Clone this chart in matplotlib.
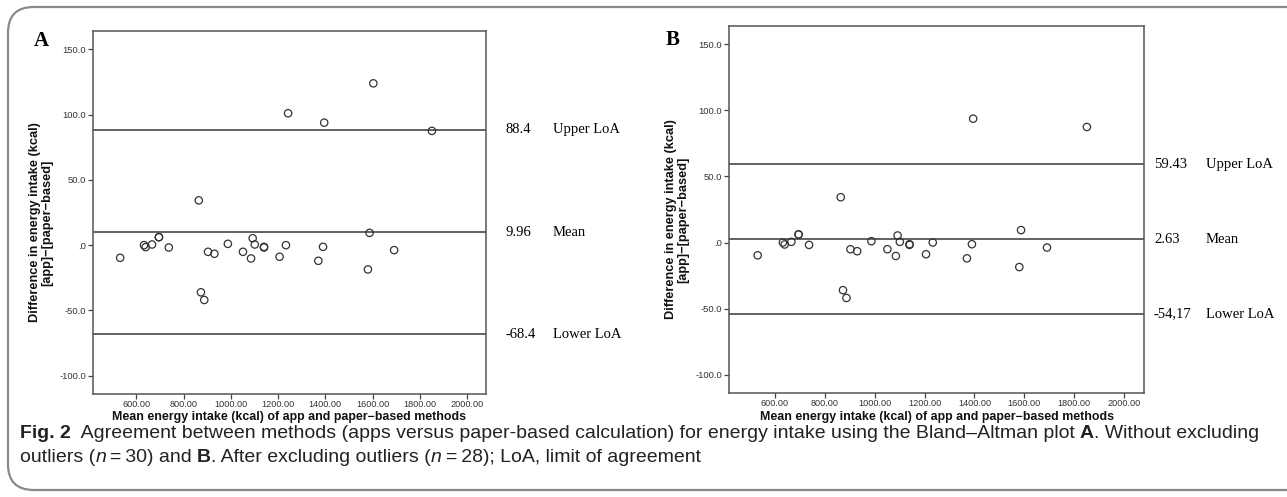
import matplotlib
matplotlib.use("Agg")
import matplotlib.pyplot as plt
from matplotlib.patches import FancyBboxPatch

# ---- data ----
mean_a = [531, 632, 639, 666, 695, 695, 737, 864, 873, 887, 903, 930, 987, 1051, 1085,
          1092, 1101, 1140, 1140, 1206, 1233, 1242, 1370, 1390, 1395, 1580, 1587, 1603,
          1691, 1851]
diff_a = [-9.7, 0.0, -1.5, 0.5, 6.1, 6.1, -1.8, 34.3, -36.1, -42.0, -5.1, -6.6, 1.0, -5.1,
          -10.2, 5.3, 0.5, -1.8, -1.3, -8.9, 0.0, 101.0, -12.0, -1.3, 93.8, -18.6, 9.4,
          123.9, -3.8, 87.5]
outliers = [21, 27]  # indices removed in panel B
mean_b = [m for i, m in enumerate(mean_a) if i not in outliers]
diff_b = [d for i, d in enumerate(diff_a) if i not in outliers]

lines_a = [88.4, 9.96, -68.4]
lines_b = [59.43, 2.63, -54.17]
num_labels_a = ["88.4", "9.96", "-68.4"]
num_labels_b = ["59.43", "2.63", "-54,17"]
line_names = ["Upper LoA", "Mean", "Lower LoA"]

xticks = [600, 800, 1000, 1200, 1400, 1600, 1800, 2000]
xticklabels = ["600.00", "800.00", "1000.00", "1200.00", "1400.00", "1600.00", "1800.00", "2000.00"]
yticks = [150, 100, 50, 0, -50, -100]
yticklabels = ["150.0", "100.0", "50.0", ".0", "-50.0", "-100.0"]

W, H = 1287, 497
fig = plt.figure(figsize=(W / 100, H / 100), dpi=100)
renderer = fig.canvas.get_renderer()

SANS = ["Liberation Sans", "DejaVu Sans"]
SERIF = ["Liberation Serif", "DejaVu Serif"]

# outer rounded border
border = FancyBboxPatch((8 / W, 7 / H), (W + 60) / W, (H - 14) / H,
                        boxstyle="round,pad=0,rounding_size=0.02",
                        transform=fig.transFigure, fill=False,
                        edgecolor="#8a8a8a", linewidth=1.6, mutation_aspect=W / H)
fig.patches.append(border)


def px_axes(l, r, t, b):
    return [l / W, (H - b) / H, (r - l) / W, (b - t) / H]


def fit_text(x, y, s, target_w, **kw):
    t = fig.text(x / W, 1 - y / H, s, fontsize=10, **kw)
    w = t.get_window_extent(renderer=renderer).width
    t.set_fontsize(10 * target_w / w)
    return t


def panel(rect, xs, ys, lines, nums, label, lab_xy, num_x, name_x):
    l, r, t, b = rect
    ax = fig.add_axes(px_axes(*rect))
    ax.scatter(xs, ys, s=28, facecolors="none", edgecolors="#333333", linewidths=0.9, zorder=3)
    for v in lines:
        ax.axhline(v, color="#555555", linewidth=1.3, zorder=2)
    ax.set_xlim(416, 2080)
    ax.set_ylim(-114, 164)
    ax.set_xticks(xticks)
    ax.set_xticklabels(xticklabels, fontsize=6.6, family=SANS, color="#333333")
    ax.set_yticks(yticks)
    ax.set_yticklabels(yticklabels, fontsize=6.8, family=SANS, color="#333333")
    ax.tick_params(direction="out", length=3.5, width=0.9, color="#444444", pad=1.5)
    ax.tick_params(axis="x", pad=1.0)
    for s in ax.spines.values():
        s.set_color("#555555")
        s.set_linewidth(1.1)
    # x label
    fit_text((l + r) / 2, 417, "Mean energy intake (kcal) of app and paper\u2212based methods",
             352, fontweight="bold", family=SANS, ha="center", va="center", color="#111111")
    # y label (two lines, rotated)
    yc = 1 - ((t + b) / 2 + 10) / H
    fig.text((l - 58) / W, yc, "Difference in energy intake (kcal)", fontsize=9.2,
             fontweight="bold", family=SANS, rotation=90, ha="center", va="center",
             color="#111111")
    fig.text((l - 46) / W, yc, "[app]\u2212[paper\u2212based]",
             fontsize=9.2, fontweight="bold", family=SANS, rotation=90,
             ha="center", va="center", color="#111111")
    fig.text(lab_xy[0] / W, 1 - lab_xy[1] / H, label, fontsize=15, fontweight="bold",
             family=SERIF, ha="left", va="center")
    for v, n, name in zip(lines, nums, line_names):
        ax.annotate(n, xy=(num_x / W, v), xycoords=("figure fraction", "data"),
                    fontsize=10.5, family=SERIF, ha="left", va="center", annotation_clip=False)
        ax.annotate(name, xy=(name_x / W, v), xycoords=("figure fraction", "data"),
                    fontsize=10.5, family=SERIF, ha="left", va="center", annotation_clip=False)
    return ax


panel((93, 486, 31, 394), mean_a, diff_a, lines_a, num_labels_a, "A", (34, 41), 505, 553)
panel((729, 1144, 26, 393), mean_b, diff_b, lines_b, num_labels_b, "B", (666, 40), 1154, 1206)

# caption with mixed styles
CAP = ["Liberation Sans", "DejaVu Sans"]

line1 = [
    ("Fig. 2", "bold", "normal"),
    ("  Agreement between methods (apps versus paper-based calculation) for energy intake using the Bland\u2013Altman plot ", "normal", "normal"),
    ("A", "bold", "normal"),
    (". Without excluding", "normal", "normal"),
]
line2 = [
    ("outliers (", "normal", "normal"),
    ("n", "normal", "italic"),
    ("\u2009=\u200930) and ", "normal", "normal"),
    ("B", "bold", "normal"),
    (". After excluding outliers (", "normal", "normal"),
    ("n", "normal", "italic"),
    ("\u2009=\u200928); LoA, limit of agreement", "normal", "normal"),
]


def draw_segments(x0, y0, segs, size):
    x = x0
    texts = []
    for txt, weight, style in segs:
        t = fig.text(x / W, 1 - y0 / H, txt, fontsize=size, fontweight=weight,
                     fontstyle=style, family=CAP, color="#222222", ha="left", va="center")
        x += t.get_window_extent(renderer=renderer).width
        texts.append(t)
    return x, texts


end, tmp = draw_segments(20, 434, line1, 10)
for t in tmp:
    t.remove()
cap_size = 10 * 1238 / (end - 20)
draw_segments(20, 434, line1, cap_size)
draw_segments(20, 457, line2, cap_size)

fig.savefig("out.png", dpi=100)
